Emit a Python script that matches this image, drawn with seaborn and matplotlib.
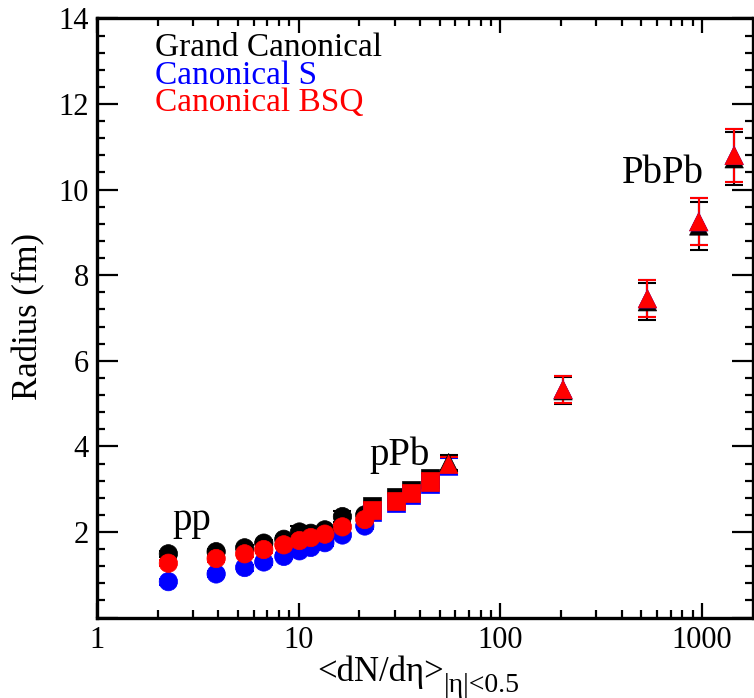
import numpy as np
import pandas as pd
import matplotlib
matplotlib.use("Agg")
import matplotlib.pyplot as plt
import seaborn as sns
from matplotlib.ticker import MultipleLocator, LogLocator, NullFormatter, FixedLocator

sns.set_theme(style="ticks")
plt.rcParams['font.family'] = ['Liberation Serif', 'DejaVu Serif']
plt.rcParams['text.color'] = 'black'
plt.rcParams['axes.labelcolor'] = 'black'
plt.rcParams['xtick.color'] = 'black'
plt.rcParams['ytick.color'] = 'black'

# dN/deta per system
pp_x = [2.26, 3.90, 5.40, 6.72, 8.45, 10.1, 11.5, 13.5, 16.5, 21.3]
ppb_x = [23.2, 30.5, 36.2, 45.0]
pbpb_x = [55.5, 205, 537.5, 966, 1447.5]

# radius (fm), Grand Canonical
gc_pp = [1.49, 1.54, 1.63, 1.74, 1.83, 2.00, 1.97, 2.05, 2.36, 2.40]
gc_ppb = [2.60, 2.81, 2.98, 3.25]
gc_pbpb = [3.62, 5.30, 7.38, 9.15, 10.72]
# Canonical S
cs_pp = [0.84, 1.02, 1.17, 1.30, 1.43, 1.56, 1.64, 1.75, 1.93, 2.14]
cs_ppb = [2.46, 2.68, 2.86, 3.13]
cs_pbpb = [3.54, 5.33, 7.45, 9.25, 10.80]
# Canonical BSQ
bsq_pp = [1.27, 1.38, 1.49, 1.59, 1.70, 1.80, 1.87, 1.95, 2.12, 2.29]
bsq_ppb = [2.51, 2.73, 2.91, 3.18]
bsq_pbpb = [3.58, 5.33, 7.45, 9.25, 10.80]

# errors
err_pp = [0.07, 0.07, 0.07, 0.07, 0.07, 0.07, 0.07, 0.07, 0.07, 0.07]
err_pp_gc = [0.07, 0.07, 0.07, 0.07, 0.07, 0.14, 0.07, 0.07, 0.12, 0.07]
err_ppb = [0.10, 0.10, 0.10, 0.10]
err_pbpb = [0.18, 0.31, 0.43, 0.55, 0.62]

series = [
    ("Grand Canonical", "black", gc_pp, gc_ppb, gc_pbpb, err_pp_gc),
    ("Canonical S", "blue", cs_pp, cs_ppb, cs_pbpb, err_pp),
    ("Canonical BSQ", "red", bsq_pp, bsq_ppb, bsq_pbpb, err_pp),
]

W, H = 754, 698
fig = plt.figure(figsize=(W / 100, H / 100), dpi=100)
ax = fig.add_axes([97 / W, (H - 617.6) / H, 656 / W, 599.2 / H])

for name, col, ypp, yppb, ypbpb, epp in series:
    rows = []
    for xs, ys, es, sysname in [(pp_x, ypp, epp, "pp"), (ppb_x, yppb, err_ppb, "pPb"),
                                (pbpb_x, ypbpb, err_pbpb, "PbPb")]:
        for x, y, e in zip(xs, ys, es):
            rows.append({"x": x, "y": y, "e": e, "system": sysname})
    df = pd.DataFrame(rows)
    ax.errorbar(df["x"], df["y"], yerr=df["e"], fmt="none", ecolor=col,
                elinewidth=1.5, capsize=6.5, capthick=1.5, zorder=2)
    sns.scatterplot(data=df, x="x", y="y", style="system",
                    markers={"pp": "o", "pPb": "s", "PbPb": "^"},
                    style_order=["pp", "pPb", "PbPb"],
                    color=col, edgecolor=col, s=175, linewidth=0.5,
                    legend=False, ax=ax, zorder=3)

ax.set_xscale("log")
ax.set_xlim(1, 1795)
ax.set_ylim(0, 14)
ax.xaxis.set_major_locator(FixedLocator([1, 10, 100, 1000]))
ax.set_xticklabels(["1", "10", "100", "1000"])
ax.xaxis.set_minor_locator(LogLocator(base=10, subs=np.arange(2, 10)))
ax.xaxis.set_minor_formatter(NullFormatter())
ax.yaxis.set_major_locator(FixedLocator([0, 2, 4, 6, 8, 10, 12, 14]))
ax.set_yticklabels(["", "2", "4", "6", "8", "10", "12", "14"])
ax.yaxis.set_minor_locator(MultipleLocator(0.4))

for s in ax.spines.values():
    s.set_linewidth(2.4)
    s.set_color("black")
ax.tick_params(axis="both", which="both", direction="in", top=True, right=True,
               width=1.6, color="black", labelsize=22, labelcolor="black")
ax.tick_params(axis="x", which="major", length=11, pad=6)
ax.tick_params(axis="y", which="major", length=15, pad=6)
ax.tick_params(axis="both", which="minor", length=6)
ax.set_xlabel("")
ax.set_ylabel("")

# legend as coloured text
for i, (name, col, *_ ) in enumerate(series):
    ax.text(0.088, [0.937, 0.891, 0.845][i], name, color=col, fontsize=24,
            transform=ax.transAxes, va="baseline", ha="left")

# system labels
ax.text(2.36, 2.05, "pp", fontsize=28, va="baseline", ha="left", color="black")
ax.text(22.5, 3.57, "pPb", fontsize=28, va="baseline", ha="left", color="black")
ax.text(400, 10.15, "PbPb", fontsize=28, va="baseline", ha="left", color="black")

# axis titles
ax.text(0.335, -0.106, "<dN/dη>", fontsize=25, transform=ax.transAxes,
        va="baseline", ha="left", clip_on=False, color="black")
ax.text(0.529, -0.124, "|η|<0.5", fontsize=20, transform=ax.transAxes,
        va="baseline", ha="left", clip_on=False, color="black")
fig.text(29 / W, 1 - 316 / H, "Radius (fm)", fontsize=25, rotation=90,
         ha="center", va="center", color="black")

fig.savefig("out.png", dpi=100)
